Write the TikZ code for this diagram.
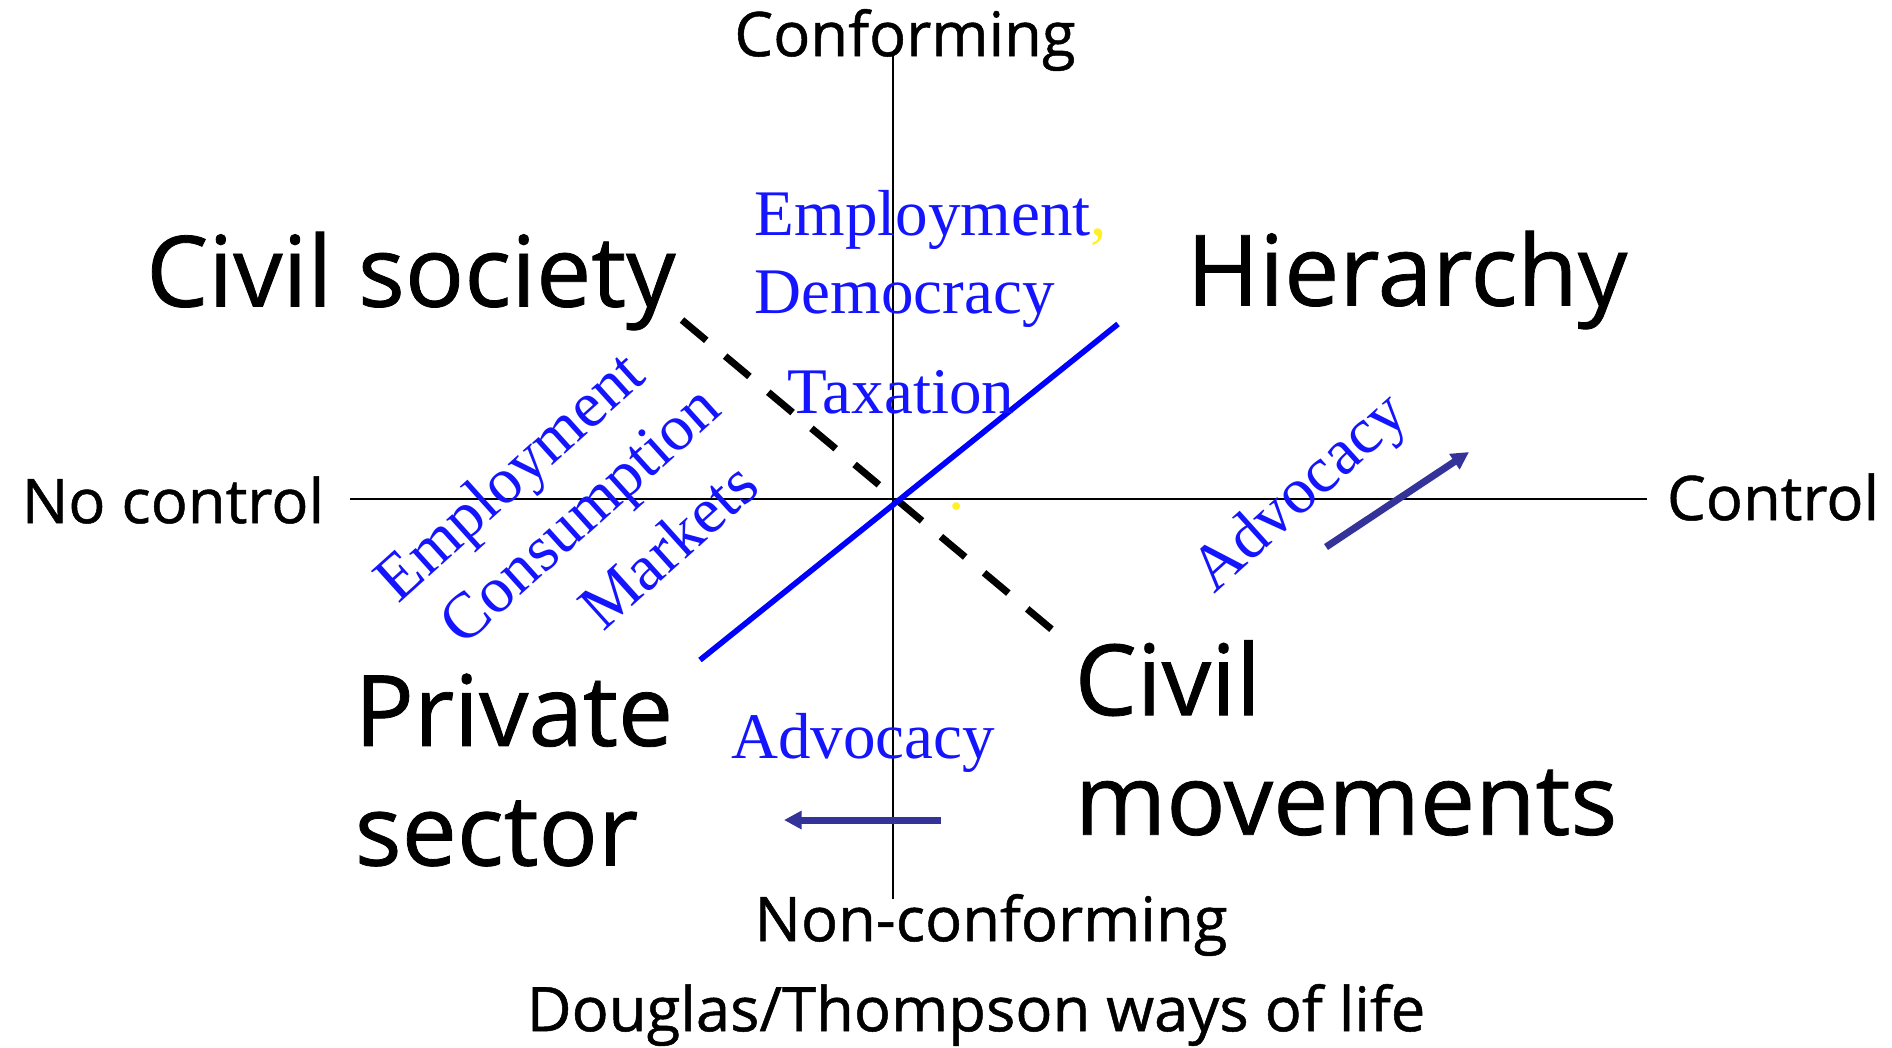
\documentclass[tikz,border=0pt]{standalone}
\usepackage{fontspec}
\setmainfont{Liberation Serif}
\newfontfamily\handfont{Open Sans}[FakeBold=0.8]
\usetikzlibrary{arrows.meta}

\definecolor{termblue}{RGB}{20,20,255}
\definecolor{linkblue}{RGB}{51,51,153}
\definecolor{commayellow}{RGB}{255,240,40}

\begin{document}
\begin{tikzpicture}[x=0.01cm,y=-0.01cm,
    axislabel/.style={font=\handfont\fontsize{17.5}{21}\selectfont},
    typelabel/.style={font=\handfont\fontsize{28}{34}\selectfont, align=left, inner sep=0pt},
    term/.style={font=\fontsize{18.5}{22}\selectfont, text=termblue, inner sep=0pt},
    advarrow/.style={-{Triangle[length=5pt,width=5pt]}, line width=2pt, draw=linkblue}]

\useasboundingbox (0,0) rectangle (1892,1047);

% Coordinates for the two axes
\coordinate (N) at (893,54);
\coordinate (S) at (893,899);
\coordinate (W) at (350,499);
\coordinate (E) at (1647,499);

% Axis lines
\draw[line width=0.6pt] (N) -- (S);
\draw[line width=0.6pt] (W) -- (E);

% Axis labels
\node[axislabel] (conf) at (905,40) {Conforming};
\node[axislabel] (nonconf) at (991,925) {Non-conforming};
\node[axislabel] (nocontrol) at (173,500) {No control};
\node[axislabel] (control) at (1773,497) {Control};
\node[axislabel] (title) at (976,1015) {Douglas/Thompson ways of life};

% Ways of life
\node[typelabel] (civsoc) at (411,281) {Civil society};
\node[typelabel] (hier) at (1407,280) {Hierarchy};
\node[typelabel, anchor=west] (priv) at (354,770) {Private\\sector};
\node[typelabel, anchor=west] (civmov) at (1074,738) {Civil\\movements};

% Diagonals
\coordinate (dashA) at (682,320);
\coordinate (dashB) at (1056,633);
\coordinate (solidA) at (700,660);
\coordinate (solidB) at (1118,324);
\draw[line width=2pt, dash pattern=on 9pt off 7pt] (dashA) -- (dashB);
\draw[line width=1.6pt, draw=blue] (solidA) -- (solidB);

% Terms along the diagonals
\node[term, anchor=west] (emp1) at (754,220) {Employment\textcolor{commayellow}{,}};
\node[term, anchor=west] (dem) at (754,299) {Democracy};
\node[term, anchor=west] (tax) at (787,392) {Taxation};
\node[term, rotate=42] (emp2) at (513,480) {Employment};
\node[term, rotate=42] (cons) at (584,519) {Consumption};
\node[term, rotate=42] (mark) at (668,545) {Markets};
\node[term, text=commayellow] (dot) at (957,507) {.};

% Advocacy arrows
\node[term, rotate=42] (advR) at (1302,495) {Advocacy};
\node[term] (advB) at (863,743) {Advocacy};
\coordinate (advRfrom) at (1326,547);
\coordinate (advRto) at (1469,452);
\coordinate (advBfrom) at (941,820);
\coordinate (advBto) at (784,820);
\draw[advarrow] (advRfrom) -- (advRto);
\draw[advarrow] (advBfrom) -- (advBto);

\end{tikzpicture}
\end{document}
